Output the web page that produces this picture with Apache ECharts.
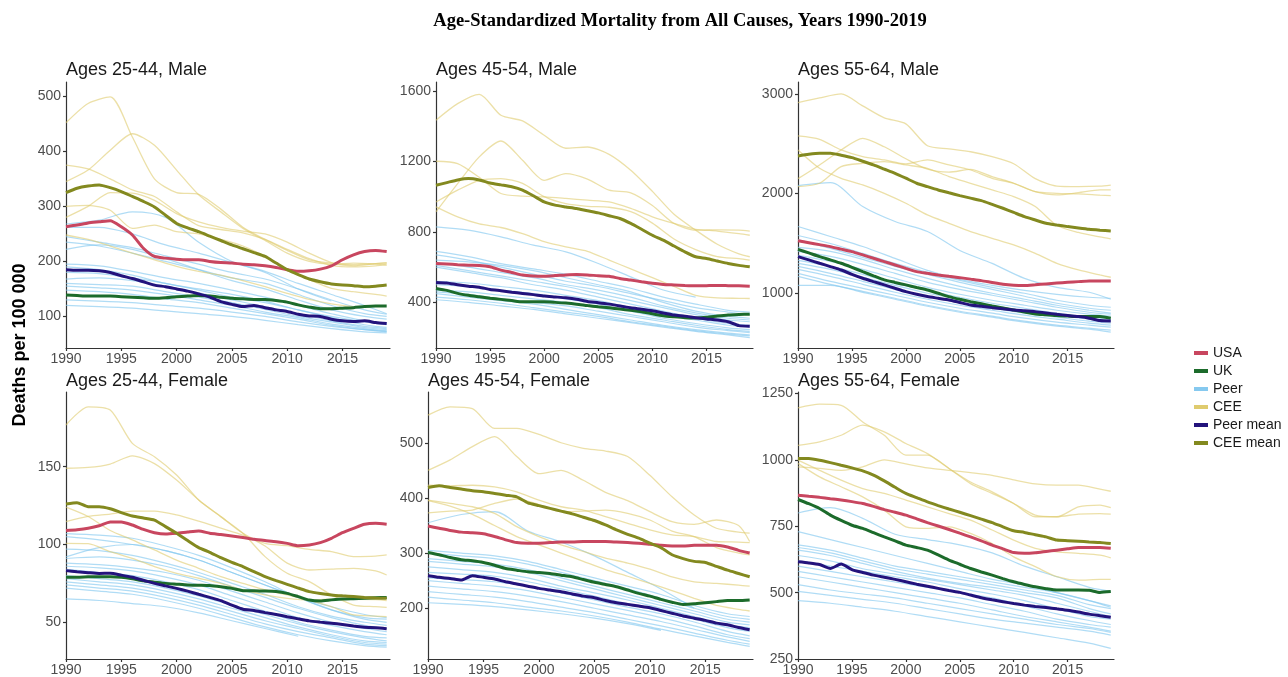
<!DOCTYPE html>
<html><head><meta charset="utf-8">
<script src="https://cdn.jsdelivr.net/npm/echarts@6/dist/echarts.min.js"></script>
<style>html,body{margin:0;padding:0;background:#fff}#c{width:1288px;height:677px}</style>
</head><body><div id="c"></div>
<script>
// ---------- DATA ----------
const YEARS = [1990,1991,1992,1993,1994,1995,1996,1997,1998,1999,2000,2001,2002,2003,2004,2005,2006,2007,2008,2009,2010,2011,2012,2013,2014,2015,2016,2017,2018,2019];
const CEE_YEARS = [1990,1992,1994,1996,1998,2000,2002,2004,2006,2008,2010,2012,2014,2016,2018,2019];
const PEER_YEARS = [1990,1993,1996,1999,2002,2005,2008,2011,2014,2017,2019];
const X_TICKS = [1990,1995,2000,2005,2010,2015];
const PANEL_TITLES = ['Ages 25-44, Male','Ages 45-54, Male','Ages 55-64, Male','Ages 25-44, Female','Ages 45-54, Female','Ages 55-64, Female'];
const Y_TICKS_M2544 = [100,200,300,400,500];
const Y_TICKS_M4554 = [400,800,1200,1600];
const Y_TICKS_M5564 = [1000,2000,3000];
const Y_TICKS_F2544 = [50,100,150];
const Y_TICKS_F4554 = [200,300,400,500];
const Y_TICKS_F5564 = [250,500,750,1000,1250];
const SERIES_NAMES = ['USA','UK','Peer','CEE','Peer mean','CEE mean'];

// Males 25-44
const usa_m2544 = [263,266,270,272,274,263,248,224,209,206,204,203,203,200,198,197,195,194,192,189,185,182,183,186,192,203,212,218,220,218];
const uk_m2544 = [139,138,137,137,137,136,135,134,133,134,136,137,138,137,135,133,132,131,131,129,126,121,117,114,114,115,116,118,119,119];
const peerMean_m2544 = [185,184,184,183,180,174,169,163,157,154,150,146,141,135,127,122,118,120,116,112,109,104,101,100,95,92,91,92,89,87];
const ceeMean_m2544 = [325,333,337,339,334,327,318,309,299,284,269,261,254,246,238,230,223,216,209,197,185,176,168,163,159,157,156,154,155,157];
const cee_m2544 = [
 [452,487,499,426,350,325,322,295,262,240,220,203,197,194,196,197],
 [345,366,402,432,411,366,321,290,260,238,215,200,195,197,195,193],
 [375,368,350,330,318,290,265,258,252,240,222,205,193,190,192,195],
 [280,300,325,324,311,287,272,262,255,250,235,215,198,192,196,198],
 [300,302,293,260,266,254,250,240,228,209,185,167,151,145,140,137],
 [248,240,228,215,203,191,182,175,165,154,142,131,123,118,null,null]
];
const peer_m2544 = [
 [268,275,290,280,235,200,180,150,128,null,null],
 [262,262,250,230,215,198,182,160,140,120,105],
 [245,235,225,210,195,180,168,150,130,112,104],
 [235,228,215,200,185,170,160,140,120,105,100],
 [222,230,222,205,185,165,150,130,112,100,95],
 [195,192,182,170,160,148,135,120,105,92,88],
 [190,185,175,160,150,140,128,112,100,90,85],
 [180,178,170,160,148,135,125,112,98,85,80],
 [168,170,165,155,143,130,118,105,92,82,78],
 [160,158,155,145,135,125,113,100,90,80,76],
 [155,152,148,140,130,120,108,98,86,78,74],
 [148,145,140,132,125,115,105,95,84,76,72],
 [130,128,125,120,115,108,100,90,82,76,73],
 [120,118,115,110,105,100,93,85,78,72,70]
];

// Males 45-54
const usa_m4554 = [621,618,614,611,610,602,583,570,555,550,549,552,556,558,556,551,548,536,527,517,508,502,499,496,494,495,496,495,494,492];
const uk_m4554 = [479,468,451,440,432,424,417,410,403,403,403,400,396,390,382,375,369,362,355,347,335,324,318,313,312,315,322,328,331,333];
const peerMean_m4554 = [513,510,500,492,486,473,466,458,451,444,436,431,426,418,405,398,390,380,369,361,352,340,328,322,313,306,300,290,268,265];
const ceeMean_m4554 = [1065,1080,1095,1103,1095,1078,1067,1056,1037,1005,970,952,942,933,920,908,892,876,848,815,781,753,720,687,659,649,635,621,610,602];
const cee_m4554 = [
 [1434,1528,1581,1462,1430,1349,1275,1282,1240,1150,1030,900,810,730,675,659],
 [914,1074,1226,1316,1207,1093,1131,1100,1037,1022,950,848,810,812,810,805],
 [1201,1188,1110,1018,1003,999,990,980,970,933,886,848,815,805,790,781],
 [970,1037,1093,1103,1075,1000,960,945,940,915,850,760,700,660,648,640],
 [942,885,845,825,790,745,715,690,640,590,540,490,440,425,423,422]
];
const peer_m4554 = [
 [829,810,772,725,687,621,545,470,430,null,null],
 [690,660,620,590,560,520,480,430,390,355,345],
 [670,640,600,560,520,490,450,410,370,345,330],
 [640,630,610,580,540,500,460,400,350,320,310],
 [625,600,570,540,500,470,430,380,340,310,300],
 [610,580,550,520,490,450,410,370,330,300,290],
 [600,570,540,500,470,430,390,350,310,280,270],
 [520,510,490,470,440,410,370,330,300,270,260],
 [500,490,470,450,420,390,350,310,280,255,245],
 [470,460,440,420,400,370,330,300,270,245,235],
 [460,445,420,400,380,350,320,290,260,240,228],
 [450,430,410,390,360,330,300,270,245,225,215],
 [430,415,395,370,345,320,290,265,240,220,210],
 [415,400,380,360,335,310,285,260,235,215,200]
];

// Males 55-64
const usa_m5564 = [1528,1508,1488,1468,1443,1418,1385,1351,1318,1284,1250,1217,1200,1184,1170,1157,1142,1127,1108,1090,1080,1077,1085,1094,1102,1110,1117,1124,1124,1124];
const uk_m5564 = [1441,1405,1368,1335,1301,1260,1217,1175,1134,1109,1084,1058,1033,1000,967,940,916,895,873,853,833,813,793,785,776,771,766,766,766,749];
const peerMean_m5564 = [1368,1335,1301,1268,1234,1190,1151,1117,1084,1050,1017,990,967,950,933,908,883,870,856,845,833,825,816,803,789,778,766,750,726,722];
const ceeMean_m5564 = [2378,2395,2405,2405,2385,2361,2325,2288,2246,2204,2155,2104,2070,2037,2008,1980,1955,1930,1892,1853,1811,1769,1735,1702,1685,1669,1655,1642,1633,1625];
const cee_m5564 = [
 [2913,2960,3000,2880,2760,2700,2480,2450,2420,2370,2300,2150,2075,2070,2075,2085],
 [2579,2545,2438,2371,2338,2298,2338,2288,2237,2154,2104,2020,1987,2010,2037,2037],
 [2150,2288,2438,2555,2470,2350,2245,2215,2244,2171,2104,2020,2003,1997,1985,1980],
 [2438,2254,2154,2087,2003,1903,1786,1702,1619,1552,1485,1401,1301,1234,1184,1161],
 [2070,2104,2271,2304,2321,2288,2254,2171,2104,2037,1970,1870,1680,1610,1565,1545]
];
const peer_m5564 = [
 [2080,2110,1870,1720,1620,1430,1300,1150,1060,1010,940],
 [1670,1570,1470,1350,1230,1140,1080,1030,990,960,950],
 [1580,1500,1400,1300,1210,1130,1060,1000,930,880,860],
 [1540,1450,1360,1270,1190,1110,1040,970,900,850,830],
 [1460,1420,1340,1240,1150,1070,1000,940,880,830,800],
 [1420,1370,1290,1200,1110,1040,980,920,860,810,790],
 [1380,1320,1240,1150,1060,990,930,880,830,790,770],
 [1330,1270,1190,1100,1030,960,900,850,800,760,740],
 [1300,1240,1160,1080,1000,940,880,820,780,740,720],
 [1270,1200,1120,1040,970,910,850,800,760,720,700],
 [1240,1170,1090,1010,940,880,830,780,740,700,680],
 [1200,1120,1050,980,910,850,800,750,710,680,660],
 [1170,1090,1020,950,880,820,770,720,680,650,630],
 [1080,1080,1010,940,870,810,760,710,670,640,610]
];

// Females 25-44
const usa_f2544 = [109,109.5,110.4,112,114.5,114.5,112.5,109.7,107.6,106.7,107.2,108,108.7,107.2,106.4,105.5,104.5,103.3,102.5,101.8,100.7,99.2,99.7,101.2,104,107.6,110.4,113,113.6,113];
const uk_f2544 = [79,79,79.2,79.3,79.3,79,78,76.6,75.8,75,74.5,74,73.8,73.6,72.8,71.8,70.3,70.2,70.1,69.8,68.6,66.5,64.3,63.7,64.4,65,65.2,65.4,65.8,66];
const peerMean_f2544 = [83.2,82.5,81.9,81.4,81.5,80.3,78.9,77,75,73.4,71.8,70,68,66,63.9,61,58.4,57.6,56.2,55,53.6,52.2,50.9,50.1,49.4,48.6,47.6,46.8,46.5,45.9];
const ceeMean_f2544 = [126,126.9,124.3,124.3,123,120.5,118.3,117,115.7,111.5,107.2,102.5,98,95,91.5,88.5,85.8,82.5,79.3,76.8,74.4,72,69.7,68.5,67.6,67,66.5,66,65.6,65.4];
const cee_f2544 = [
 [176.8,188.5,186.4,165,156.4,144.6,128.6,117.9,107.2,92.2,81.5,76.1,67.6,61.1,60,59.6],
 [149,149.5,151.7,157,152,141.4,128.6,117.9,107.2,100.7,99.2,96.9,95.4,92.2,92.5,93.3],
 [114.7,118,119.5,121.5,121.5,119,115,110.5,106,99,88,83.6,84.2,84.7,83,80.4],
 [124,118,109,103,96.5,90,84.7,79.3,75,70.8,67.6,64.3,60,54.7,54,53.6],
 [100.7,100.5,95.4,91.1,85.8,81.5,78.3,75,70.8,67.6,65.4,64.3,64.8,64.8,64.5,63.9]
];
const peer_f2544 = [
 [107,106,104,99,93,85,76,66,58,53,52],
 [105,103,100,96,90,82,74,66,60,55,53],
 [92,98,100,96,90,82,74,66,58,52,50],
 [97,96,93,88,82,75,68,60,54,50,48],
 [91,92,90,86,80,73,66,59,53,48,46],
 [88,87,85,82,77,70,63,56,50,46,44],
 [86,85,83,79,74,67,60,53,48,44,42],
 [84,82,80,76,71,64,57,50,45,41,40],
 [80,78,76,72,67,61,55,49,44,40,38],
 [78,76,74,70,65,59,53,47,42,38,37],
 [76,74,72,68,63,57,51,46,41,37,36],
 [74,72,70,66,61,55,49,44,40,36,35],
 [72,70,68,64,59,53,47,42,38,35,34],
 [65,64,62,60,56,51,46,41,null,null,null]
];

// Females 45-54
const usa_f4554 = [349,345,341,338,337,335,330,324,319,318,318,319,320,320,321,321,321,320,319,318,316,314,313,313,314,314,314,311,305,300];
const uk_f4554 = [301,297,292,288,286,283,278,272,269,266,265,263,260,257,252,247,243,239,233,227,222,216,211,207,208,210,212,214,214,215];
const peerMean_f4554 = [259,256,254,251,259,256,253,248,244,240,236,233,230,226,222,219,214,210,207,204,201,196,191,186,182,178,173,170,165,161];
const ceeMean_f4554 = [419,422,419,416,413,411,408,405,402,391,386,381,376,371,365,359,351,342,334,327,318,310,297,290,285,283,276,269,263,257];
const cee_f4554 = [
 [550,565,562,526,526,515,500,490,485,475,441,402,369,345,338,336],
 [450,469,493,511,475,444,450,432,410,395,375,357,352,360,350,321],
 [423,422,423,420,411,396,384,378,366,354,342,333,330,321,320,319],
 [373,376,378,390,398,388,375,376,378,372,360,340,330,310,300,297],
 [396,390,384,372,348,330,315,303,291,282,271,257,248,245,242,240],
 [395,385,370,350,330,315,300,285,270,258,245,232,218,205,198,195]
];
const peer_f4554 = [
 [355,370,375,340,320,295,265,235,200,null,null],
 [305,300,295,285,270,255,240,225,205,190,185],
 [300,295,290,280,265,250,235,218,200,185,180],
 [290,285,280,270,255,240,225,210,195,180,175],
 [285,280,275,265,250,235,220,205,190,175,170],
 [275,270,265,255,240,228,215,200,185,170,165],
 [265,262,258,248,235,222,208,195,180,165,158],
 [255,252,248,240,228,215,202,190,175,158,150],
 [250,245,240,232,220,208,196,183,168,152,145],
 [240,235,230,222,212,200,188,176,162,148,140],
 [230,225,220,212,202,192,180,168,155,142,135],
 [220,215,210,202,195,186,175,162,150,138,131],
 [210,207,203,197,190,182,172,160,null,null,null]
];

// Females 55-64
const usa_f5564 = [867,863,859,854,849,843,836,825,813,803,792,778,764,751,738,724,710,695,679,665,651,648,650,655,660,665,670,670,670,667];
const uk_f5564 = [851,835,817,792,772,754,742,726,710,695,679,670,660,642,623,607,591,578,566,553,541,531,522,515,510,510,510,509,501,504];
const peerMean_f5564 = [616,612,606,591,608,587,576,566,558,550,541,532,524,516,508,501,491,481,473,466,459,453,448,444,439,434,427,419,413,407];
const ceeMean_f5564 = [1005,1005,999,990,980,970,959,943,921,897,874,858,842,828,815,803,790,777,764,748,733,727,718,710,698,696,694,691,689,685];
const cee_f5564 = [
 [1196,1210,1206,1143,1093,1018,1018,968,911,874,836,792,786,823,830,820],
 [1055,1068,1093,1131,1106,1062,1024,968,917,880,836,786,786,796,798,796],
 [974,968,961,974,1000,985,970,961,952,942,925,910,905,905,890,882],
 [999,961,924,892,874,849,823,798,773,736,698,667,654,648,641,631],
 [987,936,899,861,811,748,742,748,723,685,635,598,560,547,550,550]
];
const peer_f5564 = [
 [800,820,780,720,700,680,650,600,560,520,505],
 [730,700,670,640,610,580,550,530,500,470,450],
 [680,660,630,600,580,560,540,520,500,470,445],
 [670,650,620,590,570,550,530,510,490,455,440],
 [660,640,610,580,555,535,520,500,480,440,420],
 [640,620,590,570,550,530,510,490,460,430,410],
 [620,600,580,560,540,515,495,470,440,410,400],
 [600,580,560,540,520,500,480,450,420,395,380],
 [580,560,540,520,500,480,455,430,400,380,370],
 [560,540,520,500,480,460,435,410,390,370,355],
 [530,510,495,480,460,440,420,400,380,365,350],
 [505,490,475,460,440,420,400,385,370,355,340],
 [470,460,445,430,410,390,370,350,330,310,290]
];

// ---------- STYLE ----------
const C_USA = '#C8465F', C_UK = '#1C6B2B', C_PEER = '#86C9EF', C_CEE = '#DFCB6E', C_PMEAN = '#23137C', C_CMEAN = '#83891F';
const FONT = '"Liberation Sans", Arial, sans-serif';

const panels = [
  {usa:usa_m2544, uk:uk_m2544, pm:peerMean_m2544, cm:ceeMean_m2544, cee:cee_m2544, peer:peer_m2544, ticks:Y_TICKS_M2544, min:42.7, max:526, g:[66,82,324,266]},
  {usa:usa_m4554, uk:uk_m4554, pm:peerMean_m4554, cm:ceeMean_m4554, cee:cee_m4554, peer:peer_m4554, ticks:Y_TICKS_M4554, min:141, max:1651, g:[436,82,317,266]},
  {usa:usa_m5564, uk:uk_m5564, pm:peerMean_m5564, cm:ceeMean_m5564, cee:cee_m5564, peer:peer_m5564, ticks:Y_TICKS_M5564, min:451, max:3120, g:[798,82,316,266]},
  {usa:usa_f2544, uk:uk_f2544, pm:peerMean_f2544, cm:ceeMean_f2544, cee:cee_f2544, peer:peer_f2544, ticks:Y_TICKS_F2544, min:26.4, max:198, g:[66,392,324,267]},
  {usa:usa_f4554, uk:uk_f4554, pm:peerMean_f4554, cm:ceeMean_f4554, cee:cee_f4554, peer:peer_f4554, ticks:Y_TICKS_F4554, min:108, max:592, g:[428,392,325,267]},
  {usa:usa_f5564, uk:uk_f5564, pm:peerMean_f5564, cm:ceeMean_f5564, cee:cee_f5564, peer:peer_f5564, ticks:Y_TICKS_F5564, min:250, max:1256, g:[798,392,316,267]}
];

function pairs(xs, ys){ const out=[]; xs.forEach((x,i)=>{ if(ys[i]!==null && ys[i]!==undefined) out.push([x, ys[i]]); }); return out; }
const plain = v => String(Math.round(v));

const grids=[], xAxes=[], yAxes=[], series=[], graphics=[];
const axisLineStyle = {color:'#333', width:1.2};
panels.forEach((p,i)=>{
  grids.push({left:p.g[0], top:p.g[1], width:p.g[2], height:p.g[3], containLabel:false});
  xAxes.push({type:'value', gridIndex:i, min:1990, max:2019.3,
    axisLine:{show:true, onZero:false, lineStyle:axisLineStyle},
    axisTick:{show:true, customValues:X_TICKS, length:3, lineStyle:axisLineStyle},
    axisLabel:{customValues:X_TICKS, formatter:plain, color:'#4d4d4d', fontSize:14, fontFamily:FONT, margin:4},
    splitLine:{show:false}});
  yAxes.push({type:'value', gridIndex:i, min:p.min, max:p.max,
    axisLine:{show:true, onZero:false, lineStyle:axisLineStyle},
    axisTick:{show:true, customValues:p.ticks, length:3, lineStyle:axisLineStyle},
    axisLabel:{customValues:p.ticks, formatter:plain, color:'#4d4d4d', fontSize:14, fontFamily:FONT, margin:5},
    splitLine:{show:false}});
  const base = {type:'line', xAxisIndex:i, yAxisIndex:i, symbol:'none', showSymbol:false, silent:true, animation:false};
  p.peer.forEach(v=>series.push(Object.assign({}, base, {name:'Peer', data:pairs(PEER_YEARS, v), smooth:0.3, z:1,
    itemStyle:{color:C_PEER}, lineStyle:{color:'rgba(134,201,239,0.65)', width:1.2}})));
  p.cee.forEach(v=>series.push(Object.assign({}, base, {name:'CEE', data:pairs(CEE_YEARS, v), smooth:0.25, z:2,
    itemStyle:{color:C_CEE}, lineStyle:{color:'rgba(223,203,110,0.6)', width:1.3}})));
  [['UK',p.uk,C_UK],['Peer mean',p.pm,C_PMEAN],['USA',p.usa,C_USA],['CEE mean',p.cm,C_CMEAN]].forEach(m=>{
    series.push(Object.assign({}, base, {name:m[0], data:pairs(YEARS, m[1]), smooth:0.2, z:5,
      itemStyle:{color:m[2]}, lineStyle:{color:m[2], width:3}}));
  });
  graphics.push({type:'text', x:p.g[0], y:(i<3?70:381), style:{text:PANEL_TITLES[i], font:'18px '+FONT, fill:'#1a1a1a', verticalAlign:'middle', textVerticalAlign:'middle'}});
});

graphics.push({type:'text', x:680, y:21, style:{text:'Age-Standardized Mortality from All Causes, Years 1990-2019', font:'bold 18.5px "Liberation Serif", "Times New Roman", serif', fill:'#000', align:'center', textAlign:'center', verticalAlign:'middle', textVerticalAlign:'middle'}});
graphics.push({type:'text', x:20, y:345, rotation:Math.PI/2, style:{text:'Deaths per 100 000', font:'bold 18px '+FONT, fill:'#000', align:'center', textAlign:'center', verticalAlign:'middle', textVerticalAlign:'middle'}});

const legendColors = [C_USA, C_UK, C_PEER, C_CEE, C_PMEAN, C_CMEAN];
const option = {
  backgroundColor:'#fff',
  animation:false,
  grid:grids, xAxis:xAxes, yAxis:yAxes, series:series,
  legend:{orient:'vertical', left:1194, top:346, padding:0, itemWidth:14, itemHeight:4, itemGap:4, icon:'rect', selectedMode:false,
    itemStyle:{borderWidth:0},
    textStyle:{fontSize:14, color:'#1a1a1a', fontFamily:FONT},
    data:SERIES_NAMES.map((n,i)=>({name:n, itemStyle:{color:legendColors[i], borderWidth:0}}))},
  graphic:graphics
};
const chart = echarts.init(document.getElementById('c'), null, {renderer:'canvas'});
chart.setOption(option);
</script></body></html>
